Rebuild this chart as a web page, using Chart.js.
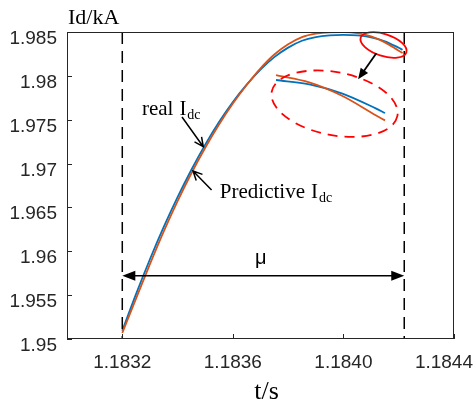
<!DOCTYPE html>
<html>
<head>
<meta charset="utf-8">
<script src="https://cdn.jsdelivr.net/npm/chart.js@4"></script>
<style>
  html, body { margin: 0; padding: 0; background: #fff; }
  #wrap { width: 474px; height: 403px; }
</style>
</head>
<body>
<div id="wrap"><canvas id="idcChart" width="474" height="403"></canvas></div>
<script>
  // Tick values
  const xTicks = [1.1832, 1.1836, 1.1840, 1.1844];
  const yTicks = [1.95, 1.955, 1.96, 1.965, 1.97, 1.975, 1.98, 1.985];

  // Sample times (s)
  const timeS = [1.18320, 1.18325, 1.18330, 1.18335, 1.18340, 1.18345, 1.18350, 1.18355,
                 1.18360, 1.18365, 1.18370, 1.18375, 1.18380, 1.18385, 1.18390, 1.18395,
                 1.18400, 1.18405, 1.18410, 1.18415, 1.18420, 1.184214];

  // real Idc (blue)
  const realIdc = [1.95094, 1.95514, 1.95909, 1.96277, 1.96617, 1.96930, 1.97216, 1.97474,
                   1.97702, 1.97900, 1.98072, 1.98214, 1.98322, 1.98400, 1.98442, 1.98462,
                   1.98468, 1.98462, 1.98440, 1.98394, 1.98320, 1.98297];

  // Predictive Idc (orange)
  const predIdc = [1.95068, 1.95464, 1.95854, 1.96227, 1.96572, 1.96890, 1.97181, 1.97446,
                   1.97684, 1.97896, 1.98086, 1.98244, 1.98360, 1.98442, 1.98482, 1.98497,
                   1.98498, 1.98486, 1.98450, 1.98382, 1.98286, 1.98260];

  // Interval mu (dashed lines) and zoomed tail
  const muStart = 1.18320, muEnd = 1.18422;
  const tailCount = 5;

  const BLUE = '#0072BD', ORANGE = '#D95319', AXIS = '#262626';

  const pts = (xs, ys) => xs.map((x, i) => ({ x: x, y: ys[i] }));

  // Annotations, drawn through the chart scales
  const annotate = {
    id: 'annotate',
    afterDatasetsDraw(chart) {
      const ctx = chart.ctx, a = chart.chartArea;
      const sx = chart.scales.x, sy = chart.scales.y;
      const X = v => sx.getPixelForValue(v), Y = v => sy.getPixelForValue(v);

      function openHead(x1, y1, x2, y2) {
        const ang = Math.atan2(y2 - y1, x2 - x1);
        ctx.beginPath();
        ctx.moveTo(x1, y1); ctx.lineTo(x2, y2);
        ctx.moveTo(x2 - 10 * Math.cos(ang - 0.45), y2 - 10 * Math.sin(ang - 0.45));
        ctx.lineTo(x2, y2);
        ctx.lineTo(x2 - 10 * Math.cos(ang + 0.45), y2 - 10 * Math.sin(ang + 0.45));
        ctx.stroke();
      }
      function filledHead(x2, y2, ang, len, half) {
        ctx.beginPath();
        ctx.moveTo(x2, y2);
        ctx.lineTo(x2 - len * Math.cos(ang) + half * Math.sin(ang), y2 - len * Math.sin(ang) - half * Math.cos(ang));
        ctx.lineTo(x2 - len * Math.cos(ang) - half * Math.sin(ang), y2 - len * Math.sin(ang) + half * Math.cos(ang));
        ctx.closePath();
        ctx.fill();
      }
      function subLabel(text, x, y) {
        ctx.font = '21px "Liberation Serif", "Times New Roman", serif';
        ctx.textAlign = 'left'; ctx.textBaseline = 'alphabetic';
        ctx.fillText(text, x, y);
        let w = ctx.measureText(text).width + 6;
        ctx.fillText('I', x + w, y);
        w += ctx.measureText('I').width + 1;
        ctx.font = '14px "Liberation Serif", "Times New Roman", serif';
        ctx.fillText('dc', x + w, y + 4);
      }

      ctx.save();
      ctx.strokeStyle = '#000'; ctx.fillStyle = '#000';

      // dashed limits
      ctx.lineWidth = 1.5;
      ctx.setLineDash([12, 7]);
      [muStart, muEnd].forEach(v => {
        ctx.beginPath();
        ctx.moveTo(X(v), a.top); ctx.lineTo(X(v), a.bottom);
        ctx.stroke();
      });
      ctx.setLineDash([]);

      // mu double arrow
      const ay = Y(1.9572);
      ctx.lineWidth = 1.5;
      ctx.beginPath();
      ctx.moveTo(X(muStart) + 8, ay); ctx.lineTo(X(muEnd) - 8, ay);
      ctx.stroke();
      filledHead(X(muStart), ay, Math.PI, 13, 5);
      filledHead(X(muEnd), ay, 0, 13, 5);
      ctx.font = '20px "Liberation Sans", Arial, sans-serif';
      ctx.textAlign = 'center'; ctx.textBaseline = 'alphabetic';
      ctx.fillText('\u03bc', X(1.183701), ay - 12);

      // curve labels
      ctx.lineWidth = 1.5;
      openHead(X(1.183416), Y(1.97531), X(1.183493), Y(1.971924));
      openHead(X(1.183523), Y(1.966987), X(1.183456), Y(1.969153));
      subLabel('real', X(1.183271), Y(1.975538));
      subLabel('Predictive', X(1.183553), Y(1.966075));

      // red ellipses
      ctx.strokeStyle = '#FF0000';
      ctx.lineWidth = 1.8;
      ctx.beginPath();
      ctx.ellipse(X(1.184145), Y(1.983518), 24, 11, 18 * Math.PI / 180, 0, Math.PI * 2);
      ctx.stroke();
      ctx.setLineDash([10, 7]);
      ctx.beginPath();
      ctx.ellipse(X(1.183968), Y(1.976826), 64, 31.5, 11 * Math.PI / 180, 0, Math.PI * 2);
      ctx.stroke();
      ctx.setLineDash([]);

      // arrow from small to big ellipse
      const x1 = X(1.184119), y1 = Y(1.982572), x2 = X(1.184053), y2 = Y(1.979607);
      const ang = Math.atan2(y2 - y1, x2 - x1);
      ctx.strokeStyle = '#000';
      ctx.lineWidth = 1.8;
      ctx.beginPath();
      ctx.moveTo(x1, y1); ctx.lineTo(x2 - 8 * Math.cos(ang), y2 - 8 * Math.sin(ang));
      ctx.stroke();
      filledHead(x2, y2, ang, 11, 4.5);

      // frame, inner ticks, tick labels
      ctx.strokeStyle = AXIS; ctx.fillStyle = AXIS;
      ctx.lineWidth = 1;
      ctx.strokeRect(a.left + 0.5, a.top + 0.5, a.right - a.left - 1, a.bottom - a.top - 1);
      ctx.beginPath();
      yTicks.forEach(v => {
        const y = Math.round(Y(v)) + 0.5;
        ctx.moveTo(a.left, y); ctx.lineTo(a.left + 5, y);
      });
      xTicks.forEach(v => {
        const x = Math.round(X(v)) + 0.5;
        ctx.moveTo(x, a.bottom); ctx.lineTo(x, a.bottom - 5);
      });
      ctx.stroke();

      ctx.font = '19px "Liberation Sans", Arial, sans-serif';
      ctx.textBaseline = 'alphabetic';
      ctx.textAlign = 'right';
      yTicks.forEach(v => ctx.fillText(String(parseFloat(v.toFixed(3))), a.left - 10, Y(v) + 12));
      ctx.textAlign = 'center';
      xTicks.forEach(v => {
        const s = v.toFixed(4);
        const w = ctx.measureText(s).width;
        const x = Math.min(X(v), chart.width - 1 - w / 2);
        ctx.fillText(s, x, a.bottom + 29);
      });

      // axis titles
      ctx.fillStyle = '#000';
      ctx.font = '22px "Liberation Serif", "Times New Roman", serif';
      ctx.textAlign = 'left';
      ctx.fillText('Id/kA', a.left + 1, 24);
      ctx.font = '26px "Liberation Serif", "Times New Roman", serif';
      ctx.textAlign = 'center';
      ctx.fillText('t/s', (a.left + a.right) / 2 + 6, 399);

      ctx.restore();
    }
  };

  const lineStyle = color => ({
    borderColor: color,
    borderWidth: 1.8,
    pointRadius: 0,
    fill: false,
    cubicInterpolationMode: 'monotone'
  });

  const ctx = document.getElementById('idcChart').getContext('2d');
  const idcChart = new Chart(ctx, {
    type: 'line',
    data: {
      datasets: [
        Object.assign({ label: 'Predictive Idc', data: pts(timeS, predIdc) }, lineStyle(ORANGE)),
        Object.assign({ label: 'real Idc', data: pts(timeS, realIdc) }, lineStyle(BLUE)),
        // magnified tail shown inside the dashed ellipse
        Object.assign({ label: 'Predictive tail', data: pts(timeS.slice(-tailCount), predIdc.slice(-tailCount)),
                        xAxisID: 'x2', yAxisID: 'y2' }, lineStyle(ORANGE)),
        Object.assign({ label: 'real tail', data: pts(timeS.slice(-tailCount), realIdc.slice(-tailCount)),
                        xAxisID: 'x2', yAxisID: 'y2' }, lineStyle(BLUE))
      ]
    },
    options: {
      responsive: false,
      animation: false,
      events: [],
      layout: { padding: { left: 67, right: 20, top: 32, bottom: 64 } },
      plugins: { legend: { display: false }, tooltip: { enabled: false } },
      scales: {
        x: { type: 'linear', display: false, min: 1.1830, max: 1.1844 },
        y: { type: 'linear', display: false, min: 1.95, max: 1.985 },
        x2: { type: 'linear', display: false, min: 1.1837355, max: 1.1843178 },
        y2: { type: 'linear', display: false, min: 1.97167, max: 1.98702 }
      }
    },
    plugins: [annotate]
  });
</script>
</body>
</html>
